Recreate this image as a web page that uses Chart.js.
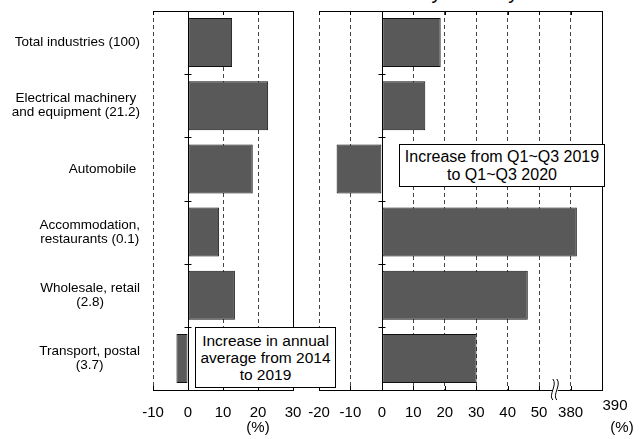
<!DOCTYPE html>
<html>
<head>
<meta charset="utf-8">
<script src="https://cdn.jsdelivr.net/npm/chart.js@4"></script>
<style>
  body { margin: 0; background: #fff; width: 640px; height: 439px; overflow: hidden; position: relative;
         font-family: "Liberation Sans", Arial, sans-serif; }
  #left { position: absolute; left: 0; top: 0; }
  #right { position: absolute; left: 300px; top: 0; }
  .note { position: absolute; background: #fff; border: 1px solid #000; box-sizing: border-box;
          text-align: center; color: #000; white-space: nowrap; }
  #title { position: absolute; top: -18px; left: 0; width: 694px; text-align: center;
           font-size: 20px; line-height: 20px; color: #000; }
</style>
</head>
<body>
<div id="title">Growth in the Trade Sector by Industry</div>
<canvas id="right" width="340" height="439"></canvas>
<canvas id="left" width="310" height="439"></canvas>
<div class="note" style="left:195px;top:327px;width:141px;height:61px;padding-top:4px;line-height:17px;font-size:15.5px;">Increase in annual<br>average from 2014<br>to 2019</div>
<div class="note" style="left:399px;top:144px;width:206px;height:43px;padding-top:3px;line-height:18px;font-size:16px;">Increase from Q1~Q3 2019<br>to Q1~Q3 2020</div>

<script>
// categories (top to bottom)
const categories = [
  ['Total industries (100)'],
  ['Electrical machinery', 'and equipment (21.2)'],
  ['Automobile '],
  ['Accommodation,', 'restaurants (0.1)'],
  ['Wholesale, retail', '(2.8)'],
  ['Transport, postal', '(3.7)']
];
// increase in annual average 2014-2019 (%)
const avgGrowth1419 = [12.6, 22.9, 18.5, 8.9, 13.4, -3.3];
// increase Q1~Q3 2019 -> Q1~Q3 2020 (%)
const growthQ1Q3 = [18.7, 13.8, -14.4, 382, 46.4, 30.1];

// broken right axis: 50 | 380
const breakFrom = 55, breakShift = 320;
const toAxis = v => v > breakFrom ? v - breakShift : v;
const axisLabel = v => v > breakFrom ? String(v + breakShift) : String(v);

const FONT = '"Liberation Sans", Arial, sans-serif';
const barColor = '#595959';

function decor(isLeft) {
  return {
    id: 'decor',
    afterDraw(chart) {
      const ctx = chart.ctx;
      const a = chart.chartArea;
      const xs = chart.scales.x, ys = chart.scales.y;
      const x0 = Math.round(xs.getPixelForValue(0)) + 0.5;
      ctx.save();
      ctx.strokeStyle = '#000';
      ctx.lineWidth = 1;
      // top + right borders
      ctx.beginPath();
      ctx.moveTo(a.left, a.top + 0.5); ctx.lineTo(a.right + 0.5, a.top + 0.5);
      ctx.lineTo(a.right + 0.5, a.bottom);
      ctx.stroke();
      // zero line with category ticks
      ctx.beginPath();
      ctx.moveTo(x0, a.top); ctx.lineTo(x0, a.bottom);
      for (let i = 1; i < categories.length; i++) {
        const y = Math.round(ys.getPixelForValue(i - 0.5)) + 0.5;
        ctx.moveTo(x0 - 4, y); ctx.lineTo(x0 + 3, y);
      }
      // inward ticks on top and bottom
      xs.ticks.forEach(t => {
        const x = Math.round(xs.getPixelForValue(t.value)) + 0.5;
        ctx.moveTo(x, a.top); ctx.lineTo(x, a.top + 4);
        ctx.moveTo(x, a.bottom); ctx.lineTo(x, a.bottom - 4);
      });
      ctx.stroke();

      ctx.fillStyle = '#000';
      if (isLeft) {
        ctx.font = '13.5px ' + FONT;
        ctx.textBaseline = 'middle';
        ctx.textAlign = 'center';
        categories.forEach((lines, i) => {
          const yc = ys.getPixelForValue(i);
          const w = Math.max(...lines.map(s => ctx.measureText(s).width));
          const cx = 140 - w / 2;
          lines.forEach((s, j) => {
            ctx.fillText(s, cx, yc + (j - (lines.length - 1) / 2) * 14);
          });
        });
        ctx.font = '15px ' + FONT;
        ctx.fillText('(%)', xs.getPixelForValue(20), 428);
      } else {
        // axis break mark
        const bx = xs.getPixelForValue(breakFrom), by = a.bottom;
        ctx.fillStyle = '#fff';
        ctx.fillRect(bx - 2, by - 1, 5, 3);
        ctx.beginPath();
        [-2, 2].forEach(dx => {
          ctx.moveTo(bx + dx, by - 11);
          ctx.bezierCurveTo(bx + dx + 5, by - 5, bx + dx - 5, by + 5, bx + dx, by + 10);
        });
        ctx.stroke();
        ctx.fillStyle = '#000';
        ctx.font = '15px ' + FONT;
        ctx.textAlign = 'center';
        ctx.textBaseline = 'middle';
        // last tick label sits a little off its tick, as in the source
        ctx.fillText(axisLabel(70), 315, 406);
        ctx.fillText('(%)', 322, 428);
      }
      ctx.restore();
    }
  };
}

function makeChart(id, values, xMin, xMax, yWidth, padRight, isLeft) {
  return new Chart(document.getElementById(id), {
    type: 'bar',
    data: {
      labels: categories,
      datasets: [{
        data: values,
        backgroundColor: barColor,
        borderColor: '#111',
        borderWidth: 1,
        borderSkipped: false,
        barPercentage: 0.775,
        categoryPercentage: 1
      }]
    },
    options: {
      indexAxis: 'y',
      responsive: false,
      animation: false,
      layout: { padding: { top: 11, right: padRight, left: 0, bottom: 0 } },
      plugins: { legend: { display: false }, tooltip: { enabled: false } },
      scales: {
        x: {
          min: xMin, max: xMax,
          ticks: {
            stepSize: 10, color: '#000', padding: 0, maxRotation: 0, autoSkip: false,
            font: { size: 15, family: FONT },
            callback: v => isLeft ? String(v) : (v === 70 ? '' : axisLabel(v))
          },
          grid: {
            color: c => (c.tick && c.tick.value === 0) ? 'rgba(0,0,0,0)' : '#444',
            drawTicks: true, tickLength: 14, tickColor: 'rgba(0,0,0,0)', lineWidth: 1
          },
          border: { display: true, color: '#000', width: 1, dash: [4, 3] },
          afterFit: s => { s.height = 49; }
        },
        y: {
          ticks: { display: false },
          grid: { display: false },
          border: { display: false },
          afterFit: s => { s.width = yWidth; }
        }
      }
    },
    plugins: [decor(isLeft)]
  });
}

makeChart('left', avgGrowth1419, -10, 30, 153, 17, true);
makeChart('right', growthQ1Q3.map(toAxis), -20, 70, 19, 38, false);
</script>
</body>
</html>
